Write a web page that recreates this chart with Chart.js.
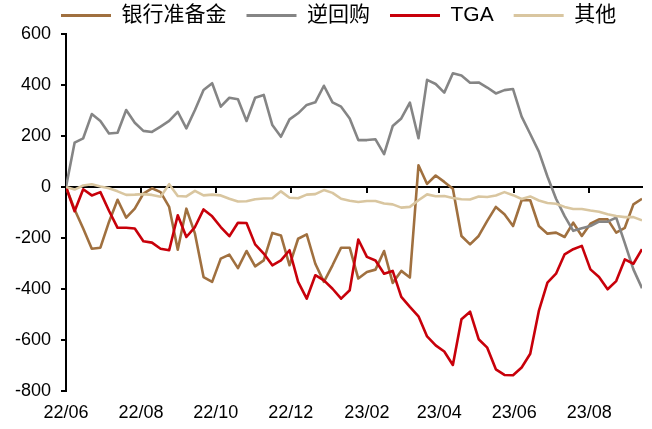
<!DOCTYPE html>
<html><head><meta charset="utf-8">
<script src="https://cdn.jsdelivr.net/npm/chart.js@4/dist/chart.umd.min.js"></script>
<style>html,body{margin:0;padding:0;background:#fff;}</style>
</head><body>
<canvas id="c" width="652" height="429"></canvas>
<script>
// weekly dates (Wednesdays)
const dates = [
 '2022-06-01','2022-06-08','2022-06-15','2022-06-22','2022-06-29','2022-07-06','2022-07-13','2022-07-20','2022-07-27','2022-08-03',
 '2022-08-10','2022-08-17','2022-08-24','2022-08-31','2022-09-07','2022-09-14','2022-09-21','2022-09-28','2022-10-05','2022-10-12',
 '2022-10-19','2022-10-26','2022-11-02','2022-11-09','2022-11-16','2022-11-23','2022-11-30','2022-12-07','2022-12-14','2022-12-21',
 '2022-12-28','2023-01-04','2023-01-11','2023-01-18','2023-01-25','2023-02-01','2023-02-08','2023-02-15','2023-02-22','2023-03-01',
 '2023-03-08','2023-03-15','2023-03-22','2023-03-29','2023-04-05','2023-04-12','2023-04-19','2023-04-26','2023-05-03','2023-05-10',
 '2023-05-17','2023-05-24','2023-05-31','2023-06-07','2023-06-14','2023-06-21','2023-06-28','2023-07-05','2023-07-12','2023-07-19',
 '2023-07-26','2023-08-02','2023-08-09','2023-08-16','2023-08-23','2023-08-30','2023-09-06','2023-09-13'
];
// 银行准备金
const reserves = [
 0,-88,-163,-242,-238,-137,-50,-120,-85,-26,
 -5,-20,-78,-246,-85,-183,-353,-372,-281,-265,
 -318,-251,-311,-288,-180,-190,-307,-203,-186,-301,
 -372,-307,-238,-238,-359,-333,-324,-251,-376,-329,
 -355,85,12,45,20,-7,-192,-225,-192,-133,
 -78,-107,-153,-52,-52,-153,-183,-179,-196,-140,
 -192,-144,-127,-127,-179,-160,-68,-46
];
// 逆回购
const rrp = [
 0,174,191,286,259,210,213,302,252,220,
 216,237,259,295,230,302,380,407,315,350,
 344,259,350,361,243,197,265,289,322,332,
 397,332,315,269,184,184,187,129,239,269,
 331,191,420,404,370,446,437,409,410,390,
 367,380,384,276,208,139,41,-46,-114,-172,
 -162,-153,-136,-136,-120,-220,-323,-397
];
// TGA
const tga = [
 0,-95,-9,-33,-20,-93,-160,-160,-163,-213,
 -218,-242,-248,-111,-196,-157,-88,-115,-157,-193,
 -140,-141,-225,-261,-307,-288,-248,-372,-438,-346,
 -366,-399,-438,-405,-206,-274,-288,-340,-329,-431,
 -470,-507,-586,-621,-645,-698,-519,-489,-597,-630,
 -715,-737,-738,-708,-654,-486,-375,-340,-264,-244,
 -231,-323,-353,-401,-369,-284,-301,-244
];
// 其他
const other = [
 0,-10,6,11,2,-5,-17,-31,-30,-28,
 -31,-38,11,-35,-37,-15,-33,-30,-33,-46,
 -57,-56,-48,-45,-44,-17,-42,-44,-30,-28,
 -12,-23,-46,-54,-59,-55,-55,-65,-68,-81,
 -78,-52,-29,-36,-35,-43,-48,-49,-37,-39,
 -33,-20,-32,-47,-37,-53,-63,-66,-78,-86,
 -86,-92,-97,-107,-114,-118,-118,-131
];
const tickDates = ['2022-06-01','2022-08-01','2022-10-01','2022-12-01','2023-02-01','2023-04-01','2023-06-01','2023-08-01'];
const tickLabels = ['22/06','22/08','22/10','22/12','23/02','23/04','23/06','23/08'];
const seriesNames = ['银行准备金','逆回购','TGA','其他'];
const seriesColors = ['#A0703F','#858585','#C8000A','#D9C6A0'];
const yTicks = {min:-800, max:600, step:200};

const DAY = 86400000;
const t0 = Date.parse(dates[0]);
const toDay = d => Math.round((Date.parse(d) - t0) / DAY);
const xs = dates.map(toDay);
const tickDays = tickDates.map(toDay);
const xMax = xs[xs.length - 1];
const FAM = '"Liberation Sans", Arial, "Noto Sans CJK SC", sans-serif';

const allSeries = [reserves, rrp, tga, other];
const datasets = allSeries.map((vals, k) => ({
  label: seriesNames[k],
  data: vals.map((v, i) => ({x: xs[i], y: v})),
  borderColor: seriesColors[k],
  backgroundColor: seriesColors[k],
  borderWidth: 2.6,
  pointRadius: 0,
  tension: 0,
  fill: false,
  borderJoinStyle: 'round',
  xAxisID: 'x',
  yAxisID: 'y',
  order: 4 - k
}));

const setTicks = s => { s.ticks = tickDays.map(v => ({value: v})); };

// move the legend row to the right, like the reference
const legendShift = {
  id: 'legendShift',
  afterLayout(chart) {
    const lg = chart.legend;
    if (lg) { lg.left += 31; lg.right += 31; }
  }
};

new Chart(document.getElementById('c'), {
  type: 'line',
  data: {datasets},
  plugins: [legendShift],
  options: {
    responsive: false,
    animation: false,
    events: [],
    layout: {padding: {top: -15, left: 10, right: 10, bottom: 0}},
    plugins: {
      tooltip: {enabled: false},
      legend: {
        position: 'top',
        align: 'start',
        maxHeight: 49,
        labels: {
          font: {size: 21, family: FAM},
          color: '#000',
          boxWidth: 50,
          boxHeight: 3,
          padding: 20,
          generateLabels: (chart) => chart.data.datasets.map((ds, i) => ({
            text: ds.label,
            fillStyle: ds.borderColor,
            strokeStyle: ds.borderColor,
            lineWidth: 0,
            hidden: false,
            datasetIndex: i,
            fontColor: '#000'
          }))
        }
      }
    },
    scales: {
      x: {
        type: 'linear',
        position: {y: 0},
        min: 0, max: xMax,
        afterBuildTicks: setTicks,
        ticks: {display: false},
        grid: {drawOnChartArea: false, drawTicks: true, tickLength: 5, color: '#000', lineWidth: 2},
        border: {display: true, color: '#000', width: 2}
      },
      xl: {
        type: 'linear',
        position: 'bottom',
        min: 0, max: xMax,
        afterBuildTicks: setTicks,
        afterFit: s => { s.height = 38; },
        ticks: {
          autoSkip: false, maxRotation: 0, minRotation: 0,
          font: {size: 18, family: FAM}, color: '#000', padding: 11,
          callback: (v, i) => tickLabels[i]
        },
        grid: {display: false, drawTicks: false},
        border: {display: false}
      },
      y: {
        type: 'linear',
        position: 'left',
        min: yTicks.min, max: yTicks.max,
        afterFit: s => { s.width = 56; },
        ticks: {stepSize: yTicks.step, font: {size: 18, family: FAM}, color: '#000', padding: 10},
        grid: {drawOnChartArea: false, drawTicks: true, tickLength: 5, color: '#000', lineWidth: 2},
        border: {display: true, color: '#000', width: 2}
      }
    }
  }
});
</script>
</body></html>
